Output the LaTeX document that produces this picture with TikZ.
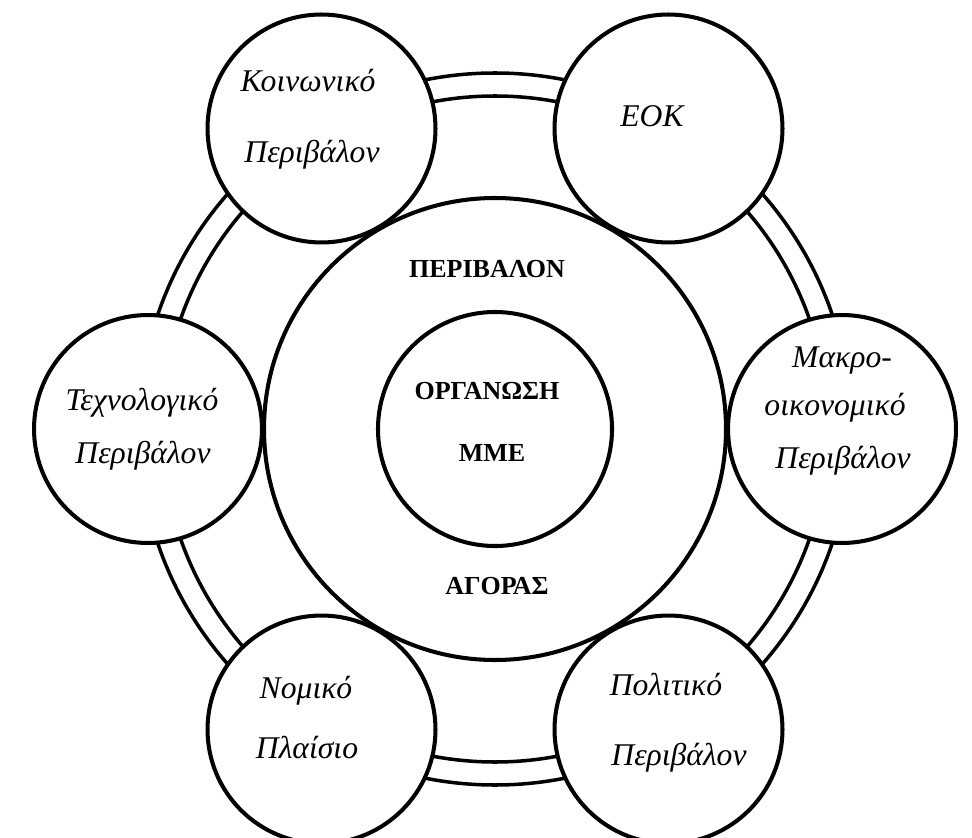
\documentclass[tikz,border=0pt]{standalone}
\usepackage{fontspec}
\setmainfont{Liberation Serif}
\begin{document}
\begin{tikzpicture}[x=0.02cm,y=0.02cm,
    sat/.style={draw,circle,fill=white,line width=2.3pt,minimum size=4.56cm,inner sep=0pt},
    band/.style={line width=2pt},
    core/.style={line width=2.3pt},
    satlabel/.style={anchor=base,font=\fontsize{18}{20}\selectfont\itshape},
    corelabel/.style={anchor=base,font=\fontsize{14.8}{17}\selectfont\bfseries}]
    % Fix the page
    \useasboundingbox (0,0) rectangle (972,-837);
    \clip (0,0) rectangle (972,-837);
    \coordinate (O) at (495,-429);
    % Draw band
    \draw[band] (O) circle (356);
    \draw[band] (O) circle (333);
    % Draw core circles
    \draw[core] (O) circle (231);
    \draw[core] (O) circle (117);
    % Draw outer circles
    \node[sat] (tech)  at ([shift={(180:347)}]O) {};
    \node[sat] (soc)   at ([shift={(120:347)}]O) {};
    \node[sat] (eok)   at ([shift={(60:347)}]O)  {};
    \node[sat] (macro) at ([shift={(0:347)}]O)   {};
    \node[sat] (pol)   at ([shift={(-60:347)}]O) {};
    \node[sat] (law)   at ([shift={(-120:347)}]O) {};
    % Outer labels
    \node[satlabel] (socA)   at (308,-92)  {Κοινωνικό};
    \node[satlabel] (socB)   at (312,-163) {Περιβάλον};
    \node[satlabel] (eokA)   at (652,-127) {ΕΟΚ};
    \node[satlabel] (techA)  at (142,-410) {Τεχνολογικό};
    \node[satlabel] (techB)  at (143,-463) {Περιβάλον};
    \node[satlabel] (macroA) at (842,-367) {Μακρο-};
    \node[satlabel] (macroB) at (835,-415) {οικονομικό};
    \node[satlabel] (macroC) at (843,-468) {Περιβάλον};
    \node[satlabel] (lawA)   at (306,-698) {Νομικό};
    \node[satlabel] (lawB)   at (307,-758) {Πλαίσιο};
    \node[satlabel] (polA)   at (666,-695) {Πολιτικό};
    \node[satlabel] (polB)   at (679,-765) {Περιβάλον};
    % Core labels
    \node[corelabel] (envA)  at (487,-278) {ΠΕΡΙΒΑΛΟΝ};
    \node[corelabel] (orgA)  at (487,-399) {ΟΡΓΑΝΩΣΗ};
    \node[corelabel] (orgB)  at (492,-461) {ΜΜΕ};
    \node[corelabel] (envB)  at (497,-594) {ΑΓΟΡΑΣ};
\end{tikzpicture}
\end{document}
